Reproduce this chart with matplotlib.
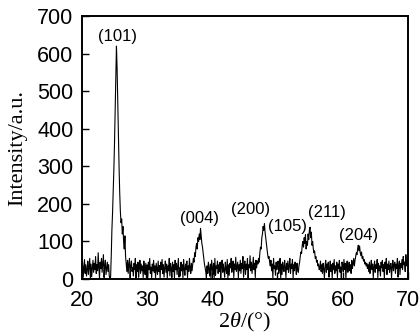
import matplotlib
matplotlib.use("Agg")
import matplotlib.pyplot as plt
import numpy as np

plt.rcParams["mathtext.fontset"] = "custom"
plt.rcParams["mathtext.rm"] = "Liberation Serif"
plt.rcParams["mathtext.it"] = "Liberation Serif:italic"

# XRD pattern, sampled every 0.1 deg from 20 to 70 (one row per degree)
two_theta = np.round(np.arange(20.0, 70.001, 0.1), 1)
intensity = [
    10, 45, 5, 30, 52, 15, 38, 8, 25, 48,
    12, 35, 55, 2, 40, 6, 30, 50, 18, 42,
    25, 60, 15, 38, 22, 70, 30, 3, 45, 28,
    55, 18, 40, 65, 4, 35, 50, 12, 30, 45,
    20, 38, 8, 2, 5, 60, 130, 175, 230, 290,
    360, 450, 540, 620, 560, 470, 380, 300, 230, 180,
    150, 160, 120, 140, 100, 80, 115, 60, 40, 20,
    50, 15, 40, 55, 3, 35, 48, 20, 30, 8,
    42, 25, 55, 2, 38, 20, 45, 5, 30, 50,
    15, 40, 22, 35, 4, 48, 28, 12, 42, 3,
    38, 5, 45, 25, 55, 15, 32, 2, 40, 22,
    50, 18, 35, 4, 42, 28, 12, 48, 20, 36,
    3, 45, 25, 52, 15, 38, 5, 30, 48, 18,
    40, 2, 35, 22, 55, 8, 42, 28, 4, 45,
    20, 38, 3, 50, 25, 42, 12, 35, 55, 5,
    30, 8, 45, 22, 38, 2, 52, 28, 10, 40,
    25, 48, 4, 35, 20, 55, 30, 15, 42, 22,
    38, 55, 45, 70, 60, 85, 95, 80, 110, 100,
    120, 105, 135, 115, 95, 85, 70, 55, 40, 30,
    20, 3, 35, 15, 45, 25, 8, 40, 2, 50,
    30, 12, 42, 4, 55, 10, 35, 28, 48, 15,
    38, 20, 45, 3, 32, 50, 18, 40, 25, 5,
    45, 28, 15, 52, 2, 38, 10, 42, 30, 55,
    18, 35, 48, 4, 40, 25, 58, 20, 32, 45,
    3, 38, 22, 50, 15, 42, 28, 60, 5, 35,
    48, 12, 40, 25, 55, 2, 38, 30, 62, 22,
    45, 15, 35, 58, 25, 42, 4, 50, 30, 48,
    40, 55, 45, 70, 85, 80, 110, 120, 140, 130,
    148, 125, 110, 95, 80, 65, 55, 60, 45, 35,
    50, 22, 40, 3, 55, 28, 35, 10, 45, 25,
    38, 48, 15, 30, 55, 2, 40, 12, 45, 28,
    20, 50, 32, 4, 42, 25, 48, 18, 35, 55,
    15, 40, 28, 52, 3, 38, 22, 45, 30, 12,
    42, 25, 18, 35, 45, 60, 72, 68, 90, 100,
    85, 110, 95, 118, 80, 100, 90, 120, 105, 130,
    138, 110, 125, 90, 100, 80, 70, 75, 55, 60,
    45, 50, 35, 40, 25, 30, 48, 20, 38, 15,
    42, 28, 3, 35, 50, 18, 40, 25, 45, 5,
    30, 48, 20, 38, 2, 42, 25, 52, 15, 35,
    22, 45, 4, 40, 28, 50, 18, 32, 3, 45,
    38, 20, 52, 25, 42, 2, 35, 48, 18, 30,
    45, 22, 38, 15, 50, 28, 40, 55, 35, 50,
    60, 70, 65, 80, 90, 75, 88, 70, 62, 72,
    55, 60, 48, 52, 40, 45, 35, 42, 28, 38,
    20, 45, 15, 35, 50, 25, 40, 3, 32, 48,
    18, 38, 28, 52, 4, 42, 22, 35, 8, 45,
    30, 50, 20, 38, 2, 45, 28, 55, 12, 40,
    25, 48, 18, 35, 42, 3, 32, 50, 22, 38,
    45, 15, 40, 28, 55, 5, 35, 48, 12, 42,
    30, 52, 25, 60, 38, 45, 20, 65, 35, 50,
    40,
]

peak_labels = ["(101)", "(004)", "(200)", "(105)", "(211)", "(204)"]
peak_label_x = [25.5, 38.1, 45.8, 51.6, 57.6, 62.4]
peak_label_y = [645, 162, 184, 139, 178, 117]

fig = plt.figure(figsize=(4.2, 3.35), dpi=100)
ax = fig.add_axes([0.195, 0.167, 0.776, 0.785])

ax.plot(two_theta, intensity, color="black", linewidth=0.8)

for lab, lx, ly in zip(peak_labels, peak_label_x, peak_label_y):
    ax.text(lx, ly, lab, ha="center", va="center", fontsize=12,
            family="Liberation Sans")

ax.set_xlim(20, 70)
ax.set_ylim(0, 700)
ax.set_xticks(range(20, 71, 10))
ax.set_yticks(range(0, 701, 100))
ax.tick_params(direction="in", length=5, width=1, labelsize=15.5)
ax.tick_params(axis="y", pad=6)
ax.tick_params(axis="x", pad=8)
for t in ax.get_xticklabels() + ax.get_yticklabels():
    t.set_family("Liberation Sans")

for s in ax.spines.values():
    s.set_linewidth(1.4)

ax.set_ylabel("Intensity/a.u.", family="Liberation Serif", fontsize=16, labelpad=7)
ax.set_xlabel(r"2$\theta$/(°)", family="Liberation Serif", fontsize=16, labelpad=0)

fig.savefig("out.png", dpi=100)
